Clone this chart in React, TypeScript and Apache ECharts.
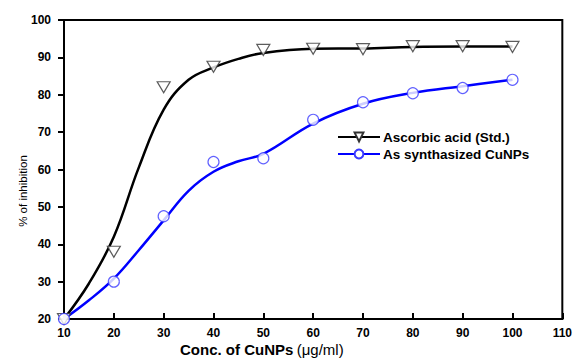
import React, { useEffect, useRef } from "react";
import * as echarts from "echarts";

const concentrations = [10, 20, 30, 40, 50, 60, 70, 80, 90, 100];
const ascorbicPoints = [20, 38, 82, 87.5, 92, 92.3, 92.2, 93, 93, 92.8];
const cunpPoints = [20, 30, 47.5, 62, 63, 73.3, 78, 80.4, 81.8, 84];

const curveX = [10, 15, 20, 25, 30, 35, 40, 45, 50, 60, 70, 80, 90, 100];
const ascorbicCurve = [20, 29.5, 42, 60.5, 76, 84, 87.3, 89.6, 91.2, 92.3, 92.4, 92.8, 92.9, 92.9];
const cunpCurve = [20, 25, 30.8, 38.4, 46.4, 54.3, 59.4, 62.2, 64.2, 72.3, 77.6, 80.5, 82.3, 84];

const xTicks = [10, 110];
const yTicks = [20, 100];

const pairs = (xs: number[], ys: number[]) => xs.map((x, i) => [x, ys[i]]);

export default function App() {
  const ref = useRef<HTMLDivElement>(null);
  useEffect(() => {
    if (!ref.current) return;
    const chart = echarts.init(ref.current, null, { renderer: "svg" });
    const font = "Liberation Sans, Arial, sans-serif";
    chart.setOption({
      animation: false,
      backgroundColor: "#fff",
      grid: {
        left: 64,
        right: 12,
        top: 20,
        bottom: 39,
        show: true,
        borderColor: "#000",
        borderWidth: 2,
      },
      legend: {
        orient: "vertical",
        left: 332,
        top: 125,
        itemWidth: 42,
        itemHeight: 11,
        itemGap: 3,
        data: ["Ascorbic acid (Std.)", "As synthasized CuNPs"],
        textStyle: { fontFamily: font, fontWeight: "bold", fontSize: 13.5, color: "#000", padding: [0, 0, 0, -2] },
      },
      xAxis: {
        type: "value",
        min: xTicks[0],
        max: xTicks[1],
        interval: 10,
        splitLine: { show: false },
        axisLine: { lineStyle: { color: "#000", width: 2 } },
        axisTick: { inside: true, length: 6, lineStyle: { color: "#000", width: 2 } },
        axisLabel: { fontFamily: font, fontWeight: "bold", fontSize: 12, color: "#000", margin: 8 },
      },
      yAxis: {
        type: "value",
        min: yTicks[0],
        max: yTicks[1],
        interval: 10,
        splitLine: { show: false },
        axisLine: { lineStyle: { color: "#000", width: 2 } },
        axisTick: { inside: false, length: 6, lineStyle: { color: "#000", width: 2 } },
        axisLabel: { fontFamily: font, fontWeight: "bold", fontSize: 12, color: "#000", margin: 13 },
      },
      graphic: [
        {
          type: "text",
          left: 180,
          top: 342,
          style: {
            text: "{b|Conc. of CuNPs} {n|(μg/ml)}",
            rich: {
              b: { fontFamily: font, fontWeight: "bold", fontSize: 15, fill: "#000" },
              n: { fontFamily: font, fontSize: 15, fill: "#000" },
            },
          },
        },
        {
          type: "text",
          x: 23,
          y: 191,
          rotation: Math.PI / 2,
          style: {
            text: "% of inhibition",
            fontFamily: font,
            fontSize: 11.5,
            fill: "#000",
            align: "center",
            verticalAlign: "middle",
          },
        },
      ],
      series: [
        {
          name: "Ascorbic acid (Std.)",
          type: "line",
          smooth: 0.4,
          data: pairs(curveX, ascorbicCurve),
          showSymbol: false,
          symbol: "triangle",
          symbolRotate: 180,
          symbolSize: 11,
          lineStyle: { color: "#000", width: 2.5 },
          itemStyle: { color: "#fff", borderColor: "#333", borderWidth: 1.2 },
          z: 2,
        },
        {
          name: "As synthasized CuNPs",
          type: "line",
          smooth: 0.4,
          data: pairs(curveX, cunpCurve),
          showSymbol: false,
          symbol: "circle",
          symbolSize: 10,
          lineStyle: { color: "#0000ff", width: 2.5 },
          itemStyle: { color: "#fff", borderColor: "#3a3aff", borderWidth: 1.2 },
          z: 2,
        },
        {
          name: "Ascorbic acid (Std.)",
          type: "scatter",
          data: pairs(concentrations, ascorbicPoints),
          symbol: "triangle",
          symbolRotate: 180,
          symbolSize: [13, 11],
          itemStyle: { color: "#fff", borderColor: "#333", borderWidth: 1.2 },
          z: 3,
        },
        {
          name: "As synthasized CuNPs",
          type: "scatter",
          data: pairs(concentrations, cunpPoints),
          symbol: "circle",
          symbolSize: 11,
          itemStyle: { color: "#fff", borderColor: "#3a3aff", borderWidth: 1.2 },
          z: 3,
        },
      ],
    });
    return () => chart.dispose();
  }, []);
  return <div ref={ref} style={{ width: 575, height: 358, position: "absolute", left: 0, top: 0 }} />;
}
